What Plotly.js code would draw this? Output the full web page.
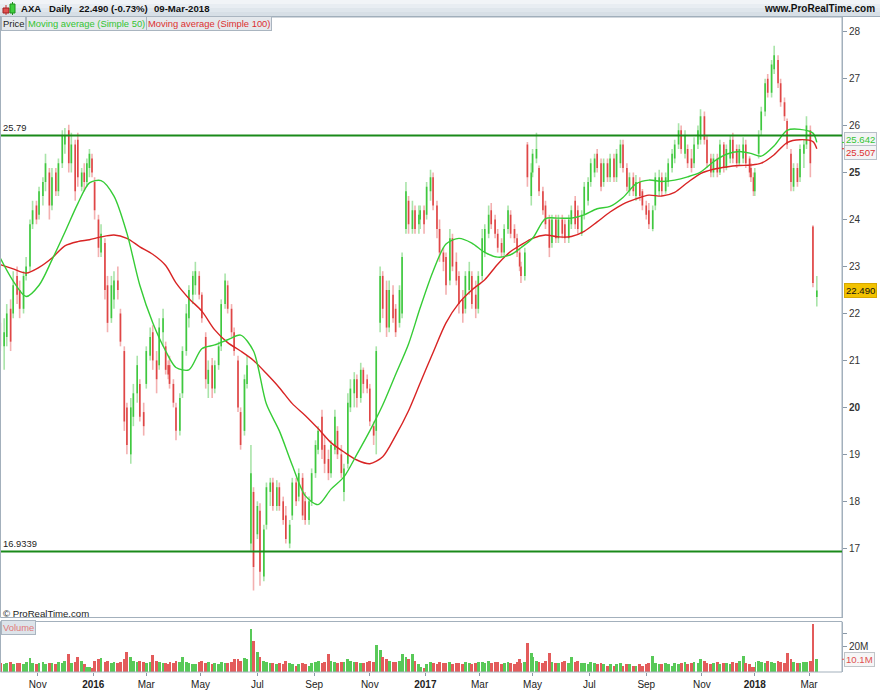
<!DOCTYPE html>
<html>
<head>
<meta charset="utf-8">
<script src="https://cdn.plot.ly/plotly-3.0.1.min.js"></script>
<style>html,body{margin:0;padding:0;background:#fff;}#chart{width:880px;height:690px;}</style>
</head>
<body>
<div id="chart"></div>
<script>
// ---- DATA ----
// Two bars per week (Tue & Fri), weeks starting Mon 2015-09-21 ... Mon 2018-03-05
const firstWeekMonday = '2015-09-21';
const weekCount = 129;
const holidays = ['2015-12-25','2016-01-01','2016-03-25','2016-03-28','2016-12-26','2017-04-14','2017-04-17','2017-05-01','2017-12-25','2017-12-26','2018-01-01','2018-03-30','2018-04-02'];

const open = [
21.8,21.3,21.5,22.1,22.0,22.8,22.5,22.1,
22.8,23.0,23.9,24.3,24.1,24.5,24.8,25.0,
24.3,25.0,24.6,25.2,25.6,25.9,25.2,25.6,
25.7,24.7,25.0,24.8,25.1,25.3,24.8,24.0,
23.3,23.5,22.6,21.9,22.3,22.7,22.0,21.2,
20.0,19.0,19.8,20.3,20.5,19.9,20.5,21.1,
21.6,21.0,20.9,21.6,21.3,20.9,20.9,20.5,
20.0,19.5,20.3,21.2,21.9,22.4,22.6,22.8,
22.4,21.5,20.5,20.9,20.4,20.9,21.3,22.2,
22.6,22.1,21.6,21.0,19.9,19.5,20.5,17.1,
18.2,17.3,17.8,16.4,17.5,18.2,18.4,17.9,
18.3,18.0,17.7,17.1,17.7,18.4,18.1,18.5,
18.0,17.6,18.0,18.6,19.1,19.8,19.2,18.9,
18.6,19.1,19.5,19.0,18.2,18.8,20.0,20.3,
20.6,20.2,20.8,20.6,20.4,19.6,19.5,21.8,
22.8,22.5,21.7,22.4,22.1,21.8,22.0,23.8,
24.4,23.8,24.2,23.9,24.0,24.2,24.1,24.6,
24.9,24.3,23.8,23.3,23.2,22.7,23.6,23.1,
22.8,22.3,22.1,22.5,22.8,22.4,22.1,22.8,
23.3,23.7,24.2,24.0,23.7,23.5,23.3,23.8,
24.1,23.8,23.6,23.3,23.0,22.8,25.6,24.5,
25.0,25.3,25.1,24.6,24.3,24.0,23.5,24.0,
23.6,24.0,23.9,23.6,23.9,24.4,24.2,23.7,
24.1,24.4,24.8,25.0,25.4,25.2,24.8,25.2,
24.9,25.3,24.9,25.2,25.6,25.1,24.6,24.9,
24.5,24.8,24.6,24.3,24.2,23.8,24.3,24.6,
24.9,24.6,24.8,25.1,25.3,25.6,25.9,25.4,
25.5,25.3,25.2,25.6,25.7,26.2,25.7,25.3,
25.0,25.3,25.0,25.6,25.1,25.3,25.7,25.5,
25.2,25.3,25.6,25.3,25.1,24.9,24.6,25.4,
25.9,26.3,27.0,26.7,27.2,27.4,26.9,26.5,
26.1,25.4,24.7,25.1,24.9,25.4,25.6,25.9,
23.85,22.35];

const high = [
22.0,21.9,22.2,22.3,22.9,23.0,22.7,22.9,
23.2,24.0,24.4,24.4,24.7,24.9,25.4,25.1,
25.1,25.1,25.3,25.9,25.95,26.02,25.85,25.7,
25.85,25.1,25.2,25.3,25.5,25.4,24.9,24.1,
23.9,23.6,22.8,22.8,22.9,23.0,22.1,21.3,
20.1,20.2,20.5,21.1,20.6,20.1,21.3,21.7,
21.75,21.2,21.9,22.1,21.4,21.0,21.1,20.6,
20.1,20.3,21.3,22.2,22.6,22.9,23.1,22.9,
22.45,21.6,21.0,21.05,21.0,21.4,22.3,22.85,
22.7,22.2,21.7,21.1,20.0,20.7,21.1,19.2,
18.3,18.0,17.96,17.5,18.4,18.5,18.5,18.45,
18.4,18.1,17.9,17.6,18.5,18.5,18.7,18.6,
18.2,18.1,18.7,19.3,19.6,19.95,19.4,19.1,
19.3,19.95,19.6,19.2,18.8,20.3,20.6,20.75,
20.7,20.95,20.85,20.7,20.5,19.7,21.3,23.0,
22.9,22.7,22.7,22.6,22.2,22.6,23.3,24.8,
24.5,24.4,24.3,24.3,24.3,24.3,24.8,25.06,
25.0,24.4,24.0,23.4,23.3,23.8,23.7,23.3,
22.9,22.5,22.9,23.1,22.9,22.7,22.9,23.8,
23.9,24.3,24.35,24.1,23.8,23.6,23.9,24.3,
24.2,23.9,23.7,23.4,23.1,23.4,25.65,25.2,
25.5,25.85,25.15,24.7,24.4,24.1,24.1,24.1,
24.1,24.1,24.0,24.1,24.3,24.5,24.3,24.2,
24.8,24.9,25.3,25.4,25.5,25.3,25.3,25.3,
25.4,25.4,25.5,25.7,25.7,25.2,25.0,25.0,
24.95,24.9,24.65,24.4,24.35,24.3,25.0,25.06,
25.0,25.0,25.3,25.5,25.7,26.05,26.0,25.9,
25.6,25.5,25.75,26.0,26.35,26.3,25.8,25.4,
25.4,25.4,25.7,25.65,25.6,25.8,25.85,25.6,
25.6,25.75,25.7,25.35,25.2,25.0,25.1,25.9,
26.4,27.0,27.1,27.4,27.7,27.5,27.0,26.6,
26.15,25.5,25.2,25.2,25.6,25.7,26.2,26.0,
23.88,22.8];

const low = [
21.2,20.8,21.3,21.2,21.9,22.2,21.9,22.0,
22.7,22.9,23.8,23.9,24.0,24.3,24.6,24.0,
24.2,24.5,24.5,25.1,25.4,25.0,25.0,24.4,
24.7,24.6,24.6,24.7,24.9,24.9,24.0,23.2,
23.2,22.3,21.6,21.8,22.1,22.3,21.3,19.5,
19.0,18.8,19.6,20.1,19.7,19.4,20.4,21.0,
20.8,20.3,20.8,21.3,20.7,20.6,20.4,20.0,
19.3,19.4,20.2,21.1,21.7,22.2,22.4,22.3,
21.8,20.4,20.2,20.2,20.3,20.8,21.2,22.1,
22.0,21.5,21.1,19.9,19.1,19.4,20.4,16.95,
16.1,17.2,16.2,16.3,17.4,17.9,17.8,17.8,
17.8,17.5,17.1,17.0,17.6,17.9,18.0,17.6,
17.5,17.5,17.9,18.5,19.0,18.9,18.6,18.45,
18.5,19.0,18.9,18.5,18.0,18.7,19.9,20.0,
20.0,20.1,20.3,20.3,19.6,19.2,19.0,21.6,
21.9,21.5,21.6,21.8,21.5,21.7,21.9,23.7,
23.7,23.7,23.7,23.7,23.8,23.7,24.0,24.4,
24.2,23.6,23.1,22.9,22.4,22.6,22.9,22.6,
22.0,21.8,22.0,22.4,22.1,21.9,22.0,22.7,
23.2,23.6,23.8,23.6,23.3,23.2,23.2,23.7,
23.6,23.5,23.2,22.9,22.65,22.7,24.7,24.3,
24.9,25.2,24.5,24.1,23.8,23.2,23.4,23.5,
23.5,23.6,23.5,23.5,23.8,23.8,23.7,23.65,
24.0,24.3,24.7,24.9,25.0,24.6,24.7,24.8,
24.8,24.8,24.8,25.1,25.0,24.6,24.5,24.5,
24.4,24.4,24.2,24.0,23.8,23.75,24.2,24.5,
24.5,24.55,24.7,25.0,25.2,25.5,25.4,25.3,
25.1,25.0,25.1,25.5,25.6,25.6,25.1,24.9,
24.9,24.9,24.95,25.0,25.05,25.2,25.2,25.1,
25.15,25.2,25.1,24.9,24.8,24.5,24.5,25.3,
25.8,26.2,26.6,26.6,27.1,26.8,26.4,26.1,
25.5,24.6,24.6,24.7,24.8,25.1,25.5,24.9,
22.56,22.15];

const close = [
21.3,21.6,22.0,21.4,22.6,22.4,22.1,22.8,
23.0,23.9,24.2,24.0,24.6,24.8,25.2,24.3,
24.9,24.6,25.2,25.8,25.8,25.2,25.6,24.6,
24.9,25.0,24.8,25.2,25.4,25.0,24.2,23.4,
23.7,22.5,21.8,22.6,22.7,22.5,21.4,19.7,
19.2,20.0,20.3,20.9,19.8,19.6,21.2,21.5,
21.0,20.6,21.7,21.9,20.8,20.7,20.5,20.1,
19.5,20.2,21.2,22.0,22.5,22.8,22.9,22.4,
21.9,20.6,20.8,20.4,20.9,21.3,22.2,22.7,
22.1,21.6,21.2,20.0,19.2,20.6,20.9,18.6,
16.6,17.9,16.5,17.4,18.3,18.4,17.9,18.3,
17.9,17.6,17.2,17.5,18.4,18.0,18.6,17.7,
17.6,18.0,18.6,19.2,19.5,19.1,18.8,18.6,
19.2,19.8,19.0,18.6,18.7,20.1,20.4,20.6,
20.2,20.8,20.5,20.4,19.7,19.4,21.2,22.8,
22.1,21.7,22.5,21.9,21.6,22.5,23.2,24.6,
23.9,24.2,23.8,24.1,24.2,23.9,24.7,24.9,
24.3,23.8,23.3,23.1,22.6,23.6,23.0,22.7,
22.2,22.0,22.8,22.9,22.2,22.1,22.8,23.6,
23.8,24.1,23.9,23.7,23.4,23.3,23.8,24.2,
23.7,23.6,23.3,23.0,22.8,23.3,24.9,25.0,
25.4,25.5,24.6,24.2,23.9,23.4,24.0,23.6,
24.0,23.7,23.6,24.0,24.2,23.9,23.8,24.1,
24.7,24.8,25.2,25.3,25.1,24.7,25.2,24.9,
25.3,24.9,25.4,25.6,25.1,24.7,24.9,24.6,
24.8,24.5,24.3,24.1,23.9,24.2,24.9,24.9,
24.6,24.9,25.2,25.4,25.6,25.9,25.5,25.8,
25.2,25.1,25.6,25.9,26.2,25.7,25.2,25.0,
25.3,25.0,25.6,25.1,25.5,25.7,25.3,25.2,
25.5,25.6,25.2,25.0,24.9,24.6,25.0,25.8,
26.3,26.9,26.7,27.3,27.5,26.9,26.5,26.2,
25.6,24.8,25.1,24.8,25.5,25.6,26.0,25.2,
22.65,22.49];

const volumeM = [
7,6,7,8,6,7,7,6,
8,11,7,6,7,8,6,7,
7,6,8,7,9,14,7,8,
12,9,6,4,4,3,9,10,
11,8,9,7,8,7,8,10,
16,12,9,8,9,8,7,8,
13,9,8,7,7,6,8,7,
9,8,12,8,7,6,6,8,
9,7,8,6,7,6,8,7,
7,8,10,10,9,11,10,33.5,
24.7,16,12,9,8,7,7,6,
7,6,9,7,6,5,6,7,
6,5,7,8,9,7,8,14,
9,8,7,8,8,10,9,8,
8,7,7,8,9,8,21,17,
12,10,9,8,8,9,14,12,
10,14.5,9,6,4,3,6,8,
7,6,8,7,7,8,6,7,
7,6,8,7,6,7,8,8,
7,9,7,8,8,6,7,8,
7,6,8,10,7,8,22.5,14.6,
12,9,8,7,9,15,8,7,
7,8,9,7,11.5,8,9,7,
7,6,8,7,6,7,6,5,
6,5,6,7,5,6,6,5,
5,6,5,6,7,12.5,7,6,
6,7,6,5,7,6,7,8,
6,7,8,7,10,9,7,6,
7,8,6,7,7,6,8,7,
9,12.5,7,6,4,4,8,9,
8,7,9,8,7,9,8,7,
14.6,10,8,7,7,8,8,8.6,
37.3,10.1];

// Moving averages read every second week (Tuesday) plus the last day
const ma50 = [
23.18,22.69,22.36,22.6,23.14,23.73,24.34,24.78,24.83,24.5,
23.71,22.6,21.8,21.2,20.85,20.8,21.25,21.33,21.44,21.54,
21.2,20.07,19.5,18.77,18.12,17.93,18.26,18.52,19.0,19.5,
20.05,20.7,21.35,22.12,22.9,23.48,23.6,23.5,23.3,23.2,
23.25,23.4,23.6,24.02,24.03,24.03,24.1,24.23,24.28,24.47,
24.76,24.84,24.81,24.84,24.91,25.01,25.23,25.39,25.45,25.41,
25.35,25.57,25.9,25.92,25.84,25.642];
const ma100 = [
23.04,22.95,22.86,22.98,23.18,23.44,23.53,23.57,23.63,23.67,
23.6,23.42,23.26,23.02,22.65,22.32,22.05,21.65,21.38,21.2,
21.0,20.72,20.42,20.08,19.83,19.55,19.25,19.05,18.88,18.8,
18.95,19.4,19.93,20.52,21.17,21.8,22.22,22.5,22.72,23.05,
23.32,23.46,23.6,23.67,23.63,23.64,23.75,23.95,24.16,24.33,
24.44,24.52,24.5,24.58,24.79,24.98,25.07,25.12,25.15,25.16,
25.2,25.38,25.64,25.7,25.66,25.507];

const supportLevels = [25.79, 16.9339];
const supportLabels = ['25.79', '16.9339'];
const monthTickDates = ['2015-11-02','2016-01-04','2016-03-01','2016-05-02','2016-07-01','2016-09-01','2016-11-01','2017-01-02','2017-03-01','2017-05-02','2017-07-03','2017-09-01','2017-11-01','2018-01-02','2018-03-01'];
const monthTickText = ['Nov','<b>2016</b>','Mar','May','Jul','Sep','Nov','<b>2017</b>','Mar','May','Jul','Sep','Nov','<b>2018</b>','Mar'];
const priceTicks = [17,18,19,20,21,22,23,24,25,26,27,28];
const priceTickText = ['17','18','19','<b>20</b>','21','22','23','24','<b>25</b>','26','27','28'];

// ---- build dates (Tue & Fri of each week; holidays shifted) ----
const DAY = 864e5;
const iso = t => new Date(t).toISOString().slice(0,10);
const hol = new Set(holidays);
const barDates = [];
const mon0 = Date.parse(firstWeekMonday + 'T00:00:00Z');
for (let w = 0; w < weekCount; w++) {
  const mon = mon0 + w*7*DAY;
  let t = mon + DAY; if (hol.has(iso(t))) t += DAY;
  let f = mon + 4*DAY; if (hol.has(iso(f))) f -= DAY;
  barDates.push(iso(t), iso(f));
}
const maDates = barDates.filter((d,k) => k % 4 === 0).concat(['2018-03-09']);

const bodyHigh = open.map((o,k) => Math.max(o, close[k]));
const bodyLow = open.map((o,k) => Math.min(o, close[k]));
const volume = volumeM.map(v => v*1e6);
const volColor = open.map((o,k) => close[k] >= o ? '#58c958' : '#e35b5b');

// ---- geometry helpers (page px -> paper) ----
const PW = 842, TOP = 17, BOT = 672, PH = BOT - TOP;
const px = x => x / PW;
const py = y => (BOT - y) / PH;

const FONT = 'Liberation Sans, Arial, sans-serif';

const traces = [
  {type:'ohlc', x:barDates, open:open, high:high, low:low, close:close, xaxis:'x', yaxis:'y', tickwidth:0,
   increasing:{line:{color:'#a9e4a9', width:1.6}}, decreasing:{line:{color:'#f3b0b0', width:1.6}}, hoverinfo:'skip'},
  {type:'ohlc', x:barDates, open:open, high:bodyHigh, low:bodyLow, close:close, xaxis:'x', yaxis:'y', tickwidth:0,
   increasing:{line:{color:'#3fc83f', width:1.6}}, decreasing:{line:{color:'#df4646', width:1.6}}, hoverinfo:'skip'},
  {type:'scatter', mode:'lines', x:maDates, y:ma100, xaxis:'x', yaxis:'y', line:{color:'#d82424', width:1.4, shape:'spline', smoothing:0.8}, hoverinfo:'skip'},
  {type:'scatter', mode:'lines', x:maDates, y:ma50, xaxis:'x', yaxis:'y', line:{color:'#36cc36', width:1.4, shape:'spline', smoothing:0.8}, hoverinfo:'skip'},
  {type:'bar', x:barDates, y:volume, xaxis:'x', yaxis:'y2', marker:{color:volColor, line:{width:0}}, width:2.2*DAY, hoverinfo:'skip'}
];

const shapes = [];
// header gradient
const bands = ['#f1f4f7','#e8edf2','#dfe6ec','#d7dfe6'];
bands.forEach((c,k) => shapes.push({type:'rect', xref:'paper', yref:'paper', x0:px(0), x1:px(880), y0:py(4*(k+1)), y1:py(4*k), fillcolor:c, line:{width:0}, layer:'below'}));
shapes.push({type:'line', xref:'paper', yref:'paper', x0:px(0), x1:px(880), y0:py(16.5), y1:py(16.5), line:{color:'#9fadba', width:1}});
// header candle icon
shapes.push({type:'line', xref:'paper', yref:'paper', x0:px(6), x1:px(6), y0:py(15), y1:py(5), line:{color:'#c83030', width:1}});
shapes.push({type:'rect', xref:'paper', yref:'paper', x0:px(3), x1:px(9), y0:py(13), y1:py(8), fillcolor:'#e05050', line:{color:'#a02020', width:1}});
shapes.push({type:'line', xref:'paper', yref:'paper', x0:px(12.5), x1:px(12.5), y0:py(15), y1:py(2), line:{color:'#1f8f1f', width:1}});
shapes.push({type:'rect', xref:'paper', yref:'paper', x0:px(10), x1:px(15), y0:py(13), y1:py(4), fillcolor:'#3fcf3f', line:{color:'#1f8f1f', width:1}});
// panel frames
shapes.push({type:'rect', xref:'paper', yref:'paper', x0:px(0.5), x1:px(842), y0:py(617.5), y1:py(17), line:{color:'#a3b0bc', width:1}});
shapes.push({type:'rect', xref:'paper', yref:'paper', x0:px(0.5), x1:px(842), y0:py(672), y1:py(621.5), line:{color:'#a3b0bc', width:1}});
// support/resistance lines
supportLevels.forEach(v => shapes.push({type:'line', xref:'paper', yref:'y', x0:px(1), x1:px(842), y0:v, y1:v, line:{color:'#1a8a1a', width:2}}));
// small coloured ticks for MA labels
shapes.push({type:'line', xref:'paper', yref:'y', x0:px(842), x1:px(846), y0:ma50[ma50.length-1], y1:ma50[ma50.length-1], line:{color:'#36cc36', width:1}});
shapes.push({type:'line', xref:'paper', yref:'y', x0:px(842), x1:px(846), y0:ma100[ma100.length-1], y1:ma100[ma100.length-1], line:{color:'#d82424', width:1}});
shapes.push({type:'line', xref:'paper', yref:'y2', x0:px(842), x1:px(846), y0:10e6, y1:10e6, line:{color:'#e05050', width:1}});

const ann = [];
const hdr = (x, t) => ann.push({xref:'paper', yref:'paper', x:px(x), y:py(8.5), xanchor:'left', yanchor:'middle', text:'<b>'+t+'</b>', showarrow:false, font:{family:FONT, size:9.6, color:'#111'}});
hdr(19,'AXA'); hdr(47,'Daily'); hdr(77,'22.490 (-0.73%)'); hdr(152,'09-Mar-2018');
ann.push({xref:'paper', yref:'paper', x:px(877), y:py(8.5), xanchor:'right', yanchor:'middle', text:'<b>www.ProRealTime.com</b>', showarrow:false, font:{family:FONT, size:10, color:'#111'}});
// legend boxes
const legBox = (x, t, c) => ann.push({xref:'paper', yref:'paper', x:px(x), y:py(23.8), xanchor:'left', yanchor:'middle', text:t, showarrow:false,
  font:{family:FONT, size:9.4, color:c}, bgcolor:'#e4e8ec', bordercolor:'#aab5c0', borderwidth:1, borderpad:1});
legBox(0.5,'Price','#222'); legBox(25.5,'Moving average (Simple 50)','#33c433'); legBox(145.5,'Moving average (Simple 100)','#dd3030');
// level labels
supportLevels.forEach((v,k) => ann.push({xref:'paper', yref:'y', x:px(1), y:v, xanchor:'left', yanchor:'bottom', yshift:0, text:supportLabels[k], showarrow:false, font:{family:FONT, size:9.4, color:'#222'}}));
// right value labels
const valBox = (y, t, c, bg, bc) => ann.push({xref:'paper', yref:'paper', x:px(843.5), y:py(y), xanchor:'left', yanchor:'middle', text:t, showarrow:false,
  font:{family:FONT, size:9.6, color:c}, bgcolor:bg, bordercolor:bc, borderwidth:1, borderpad:1});
valBox(139, ma50[ma50.length-1].toFixed(3), '#33c433', '#f3f4f5', '#b8c0c8');
valBox(152.3, ma100[ma100.length-1].toFixed(3), '#dd3030', '#f3f4f5', '#b8c0c8');
valBox(290.7, close[close.length-1].toFixed(3), '#111', '#f2c200', '#d7a800');
valBox(659, (volumeM[volumeM.length-1]).toFixed(1)+'M', '#e05050', '#f6f6f6', '#c0c4c8');
// copyright & volume label
ann.push({xref:'paper', yref:'paper', x:px(1), y:py(613), xanchor:'left', yanchor:'middle', text:'© ProRealTime.com', showarrow:false, font:{family:FONT, size:9.6, color:'#222'}});
ann.push({xref:'paper', yref:'paper', x:px(1), y:py(627.5), xanchor:'left', yanchor:'middle', text:'Volume', showarrow:false,
  font:{family:FONT, size:9.4, color:'#e07878'}, bgcolor:'#dde4ea', bordercolor:'#aab5c0', borderwidth:1, borderpad:1});

const layout = {
  width:880, height:690, margin:{l:0, r:38, t:TOP, b:690-BOT, pad:0},
  paper_bgcolor:'#ffffff', plot_bgcolor:'#ffffff', showlegend:false,
  font:{family:FONT, size:10, color:'#222'},
  xaxis:{type:'date', anchor:'y2', domain:[0,1], range:['2015-09-21 18:43','2018-04-09 12:00'],
    rangebreaks:[{bounds:['sat','mon']}, {values:holidays}],
    rangeslider:{visible:false}, showgrid:false, zeroline:false, showline:false,
    tickmode:'array', tickvals:monthTickDates, ticktext:monthTickText,
    ticks:'outside', ticklen:3, tickcolor:'#8a98a6', tickfont:{family:FONT, size:10, color:'#222'}},
  yaxis:{domain:[py(617.5),1], anchor:'x', side:'right', range:[15.526, 28.313], showgrid:false, zeroline:false,
    showline:true, linecolor:'#a3b0bc', linewidth:1, tickmode:'array', tickvals:priceTicks, ticktext:priceTickText,
    ticks:'outside', ticklen:4, tickcolor:'#8a98a6', tickfont:{family:FONT, size:10, color:'#333'}},
  yaxis2:{domain:[0, py(621.5)], anchor:'x', side:'right', range:[0, 39.6e6], showgrid:false, zeroline:false,
    showline:true, linecolor:'#a3b0bc', linewidth:1, tickmode:'array', tickvals:[20e6, 30e6], ticktext:['20M',''],
    ticks:'outside', ticklen:4, tickcolor:'#8a98a6', tickfont:{family:FONT, size:10, color:'#333'}},
  bargap:0, shapes:shapes, annotations:ann
};

Plotly.newPlot('chart', traces, layout, {staticPlot:true, displayModeBar:false});
</script>
</body>
</html>
